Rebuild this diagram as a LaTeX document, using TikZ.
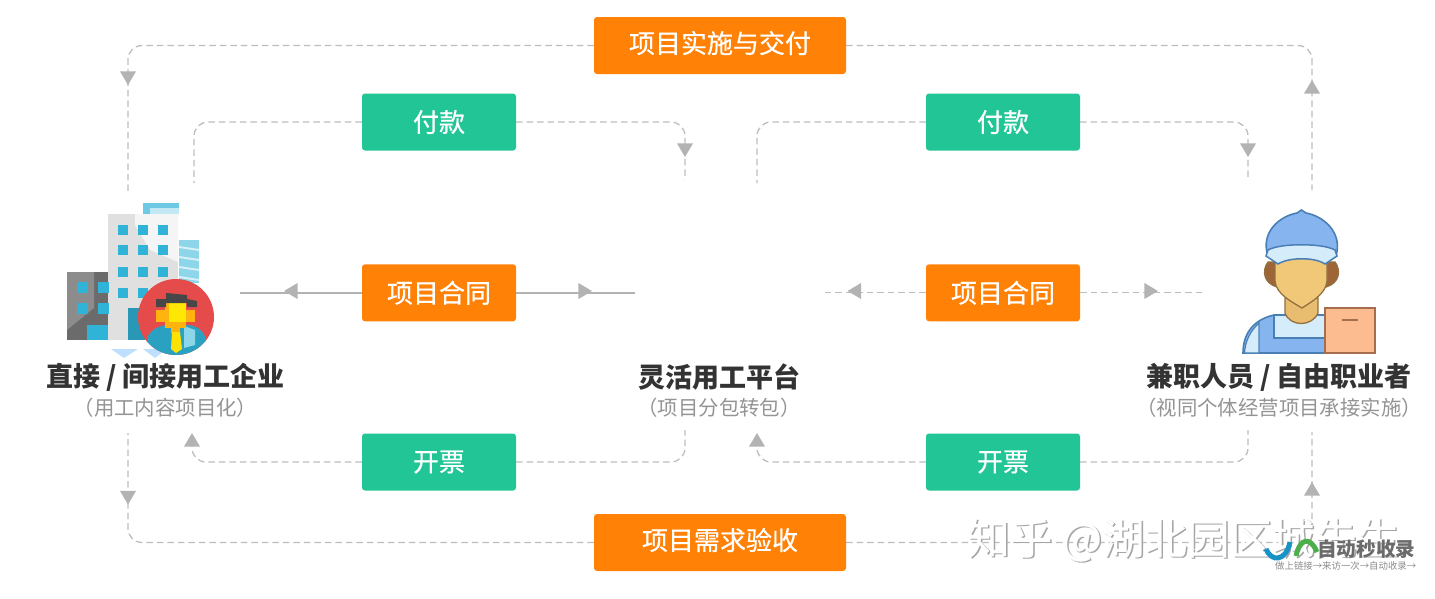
\documentclass[tikz,border=0pt]{standalone}
\usepackage{fontspec}
\setmainfont{Noto Sans CJK SC}
\newfontfamily\tagfont{Noto Sans CJK SC}[FakeBold=0.5]
\usepackage{tikz}
\usetikzlibrary{positioning,calc,shapes.geometric}
\definecolor{boxorange}{HTML}{FF8207}
\definecolor{boxgreen}{HTML}{22C596}
\definecolor{linegray}{HTML}{BDBDBD}
\definecolor{tipgray}{HTML}{B3B3B3}
\definecolor{capblue}{HTML}{85B4EE}
\definecolor{paleblue}{HTML}{D5ECFB}
\definecolor{navyline}{HTML}{4A7FB5}
\definecolor{skin}{HTML}{F0C878}
\definecolor{skinline}{HTML}{93703F}
\definecolor{towercyan}{HTML}{2FB3D6}
\definecolor{boxpeach}{HTML}{FDBB90}
\definecolor{boxline}{HTML}{A56E4E}
\definecolor{badgered}{HTML}{E64B4B}
\definecolor{facegold}{HTML}{FFB30F}

\begin{document}
\begin{tikzpicture}[
        x=1pt, y=-1pt,
        tag/.style={rectangle, rounded corners=3pt, text=white, inner sep=0pt,
            minimum height=57pt, font=\tagfont\fontsize{26}{26}\selectfont},
        wide/.style={tag, fill=boxorange, minimum width=252pt, text height=22pt, text depth=7pt},
        deal/.style={tag, fill=boxorange, minimum width=154pt},
        cash/.style={tag, fill=boxgreen, minimum width=154pt},
        title/.style={text=black!80, inner sep=0pt, font=\fontsize{27}{27}\selectfont\bfseries},
        note/.style={text=black!42, inner sep=0pt, font=\fontsize{20.4}{21}\selectfont},
        link/.style={draw=linegray, line width=1.3pt, dash pattern=on 6.5pt off 4pt, rounded corners=14pt},
        firm/.style={draw=tipgray, line width=1.5pt},
        tip/.style={isosceles triangle, isosceles triangle stretches, fill=tipgray, inner sep=0pt,
            minimum height=13.5pt, minimum width=16pt},
    ]
    \useasboundingbox (0,0) rectangle (1435,598);
    \fill[white] (0,0) rectangle (1435,598);

    % boxes
    \node[wide] (deliver) at (720,45.5) {项目实施与交付};
    \node[cash] (payL) at (439,122) {付款};
    \node[cash] (payR) at (1003,122) {付款};
    \node[deal] (dealL) at (439,292.8) {项目合同};
    \node[deal] (dealR) at (1003,292.8) {项目合同};
    \node[cash] (billL) at (439,462) {开票};
    \node[cash] (billR) at (1003,462) {开票};
    \node[wide] (accept) at (720,542.5) {项目需求验收};

    % labels
    \node[title] (firm) at (165.5,377) {直接 / 间接用工企业};
    \node[note] (firmnote) at (165.5,407.5) {（用工内容项目化）};
    \node[title] (platform) at (719,377) {灵活用工平台};
    \node[note] (platformnote) at (719,407.5) {（项目分包转包）};
    \node[title] (worker) at (1279,377) {兼职人员 / 自由职业者};
    \node[note] (workernote) at (1279,407.5) {（视同个体经营项目承接实施）};

    % free ends
    \coordinate (outerTL) at (128,193);
    \coordinate (outerTR) at (1312,190);
    \coordinate (outerBL) at (128,433);
    \coordinate (outerBR) at (1312,432);
    \coordinate (payLa) at (194,183);
    \coordinate (payLb) at (685,180);
    \coordinate (payRa) at (757,183);
    \coordinate (payRb) at (1248,180);
    \coordinate (dealLa) at (240,292.8);
    \coordinate (dealLb) at (635,292.8);
    \coordinate (dealRa) at (824,292.8);
    \coordinate (dealRb) at (1202,292.8);
    \coordinate (billLa) at (192,440);
    \coordinate (billLb) at (685,430);
    \coordinate (billRa) at (757,440);
    \coordinate (billRb) at (1248,430);

    % connectors
    \draw[link] (deliver.west) -| (outerTL);
    \draw[link] (deliver.east) -| (outerTR);
    \draw[link] (accept.west) -| (outerBL);
    \draw[link] (accept.east) -| (outerBR);
    \draw[link] (payL.west) -| (payLa);
    \draw[link] (payL.east) -| (payLb);
    \draw[link] (payR.west) -| (payRa);
    \draw[link] (payR.east) -| (payRb);
    \draw[firm] (dealL.west) -- (dealLa);
    \draw[firm] (dealL.east) -- (dealLb);
    \draw[link] (dealR.west) -- (dealRa);
    \draw[link] (dealR.east) -- (dealRb);
    \draw[link] (billL.west) -| (billLa);
    \draw[link] (billL.east) -| (billLb);
    \draw[link] (billR.west) -| (billRa);
    \draw[link] (billR.east) -| (billRb);

    % arrow heads
    \node[tip,rotate=-90] (tipa) at (128,76) {};
    \node[tip,rotate=90] (tipb) at (1312,89) {};
    \node[tip,rotate=-90] (tipc) at (685,148) {};
    \node[tip,rotate=-90] (tipd) at (1248,148) {};
    \node[tip,rotate=180] (tipe) at (293,291) {};
    \node[tip] (tipf) at (583,291) {};
    \node[tip,rotate=180] (tipg) at (856.5,291) {};
    \node[tip] (tiph) at (1149,291) {};
    \node[tip,rotate=90] (tipi) at (192,442) {};
    \node[tip,rotate=90] (tipj) at (757,442) {};
    \node[tip,rotate=-90] (tipk) at (128,495.5) {};
    \node[tip,rotate=90] (tipl) at (1312,491) {};

    % building
    \fill[towercyan!70] (143,203) rectangle (179,214);
    \fill[towercyan!30] (150,208) rectangle (179,214);
    \fill[towercyan!55] (179,240) rectangle (199,283);
    \foreach \y in {246,256,266,276}
        \fill[white!80!towercyan] (179,\y) -- (199,\y+3) -- (199,\y+5) -- (179,\y+2) -- cycle;
    \fill[black!12] (108,214) rectangle (178,340);
    \fill[black!4] (135,214) -- (178,214) -- (178,262) -- (150,250) -- (135,225) -- cycle;
    \fill[black!58] (67,272) rectangle (108,340);
    \fill[black!45] (67,272) -- (94,272) -- (94,308) -- (67,330) -- cycle;
    \foreach \x in {118,138,158}
        \foreach \y in {225,245,267,288}
            \fill[towercyan] (\x,\y) rectangle ++(10,10);
    \foreach \x in {77,98}
        \foreach \y in {282,303}
            \fill[towercyan] (\x,\y) rectangle ++(10.5,11);
    \fill[towercyan] (87,325) rectangle (108,340);
    \fill[towercyan!85!black] (128,308) rectangle (145,340);
    \fill[blue!50!cyan!25] (111,349) -- (138,349) -- (124,358) -- cycle;
    \fill[blue!50!cyan!25] (143,349) -- (167,349) -- (155,358) -- cycle;
    % badge
    \fill[badgered] (176,317) circle (38);
    \begin{scope}
        \clip (176,317) circle (38);
        \fill[towercyan!90!black] (147,355) -- (147,338) .. controls (150,330) and (160,325) .. (168,325)
            -- (186,325) .. controls (196,325) and (204,330) .. (206,340) -- (206,355) -- cycle;
        \fill[towercyan!55] (184,326) -- (195,330) -- (195,345) -- (184,348) -- cycle;
    \end{scope}
    \fill[facegold] (156,310) rectangle (195,322);
    \fill[facegold] (165,303) rectangle (186,328);
    \fill[yellow!90!orange] (169,303) rectangle (186,322);
    \fill[facegold] (171,328) rectangle (180,333);
    \fill[black!72] (156,299) -- (166,299) -- (166,293) -- (187,295) -- (187,299) -- (197,301)
        -- (197,307) -- (187,307) -- (187,303) -- (166,303) -- (166,307) -- (156,307) -- cycle;
    \fill[yellow!85!orange] (172,332) -- (180,332) -- (182,349) -- (176,353) -- (171,349) -- cycle;

    % worker
    \fill[skinline!90!red, draw=skinline, line width=1.3pt] (1268,262)
        .. controls (1262,270) and (1263,283) .. (1277,287) -- (1326,287)
        .. controls (1340,283) and (1341,270) .. (1335,262) -- cycle;
    \fill[capblue, draw=navyline, line width=1.6pt] (1243,353) .. controls (1243,335) and (1252,320) .. (1274,315) -- (1325,315) -- (1325,353) -- cycle;
    \fill[paleblue, draw=navyline, line width=1.4pt] (1274,315) -- (1274,338) -- (1325,338) -- (1325,315) -- cycle;
    \fill[paleblue, draw=navyline, line width=1.2pt] (1259,323) -- (1259,353) -- (1244.5,353) .. controls (1245,342) and (1250,331) .. (1259,323) -- cycle;
    \fill[skin!85!brown, draw=skinline, line width=1.3pt] (1285,298) -- (1285,313) .. controls (1290,327) and (1312,327) .. (1318,313) -- (1318,298) -- cycle;
    \fill[skin, draw=skinline, line width=1.3pt] (1275,255) -- (1275,281) .. controls (1276,294) and (1292,302) .. (1302,308)
        .. controls (1311,302) and (1326,294) .. (1327,281) -- (1327,255) -- cycle;
    \fill[capblue, draw=navyline, line width=1.6pt] (1268,256) .. controls (1260,232) and (1280,216) .. (1297,213)
        -- (1301.5,210) -- (1306,213) .. controls (1323,216) and (1343,232) .. (1336,256)
        .. controls (1325,248) and (1279,248) .. (1268,256) -- cycle;
    \fill[paleblue, draw=navyline, line width=1.5pt] (1268,250) .. controls (1280,243) and (1323,243) .. (1335,250)
        -- (1337,256) -- (1325,264) .. controls (1315,257) and (1289,257) .. (1278,264) -- (1266,256) -- cycle;
    \fill[boxpeach, draw=boxline, line width=2pt] (1325,308) rectangle (1375,353);
    \draw[boxline, line width=2pt] (1342,320) -- (1358,320);

    % watermark
    \node[anchor=west, inner sep=0pt, text=black!35, font=\tagfont\fontsize{42.5}{43}\selectfont] (markshadow) at (968.5,541) {知乎 @湖北园区城先生};
    \node[anchor=west, inner sep=0pt, text=white, font=\tagfont\fontsize{42.5}{43}\selectfont] (mark) at (967,540) {知乎 @湖北园区城先生};
    \draw[draw=blue!30!cyan!75!black!90, line width=5pt] (1266,549) .. controls (1271,562) and (1286,562) .. (1290,542);
    \draw[draw=green!55!black!70, line width=5pt] (1296,556) .. controls (1300,538) and (1310,536) .. (1317,552);
    \node[anchor=west, inner sep=0pt, text=black!58, font=\fontsize{19.6}{20}\selectfont\bfseries] (logo) at (1317,549.5) {自动秒收录};
    \node[anchor=west, inner sep=0pt, text=black!45, font=\fontsize{9.4}{9}\selectfont] (logonote) at (1275,565.5) {做上链接→来访一次→自动收录→};
\end{tikzpicture}
\end{document}
